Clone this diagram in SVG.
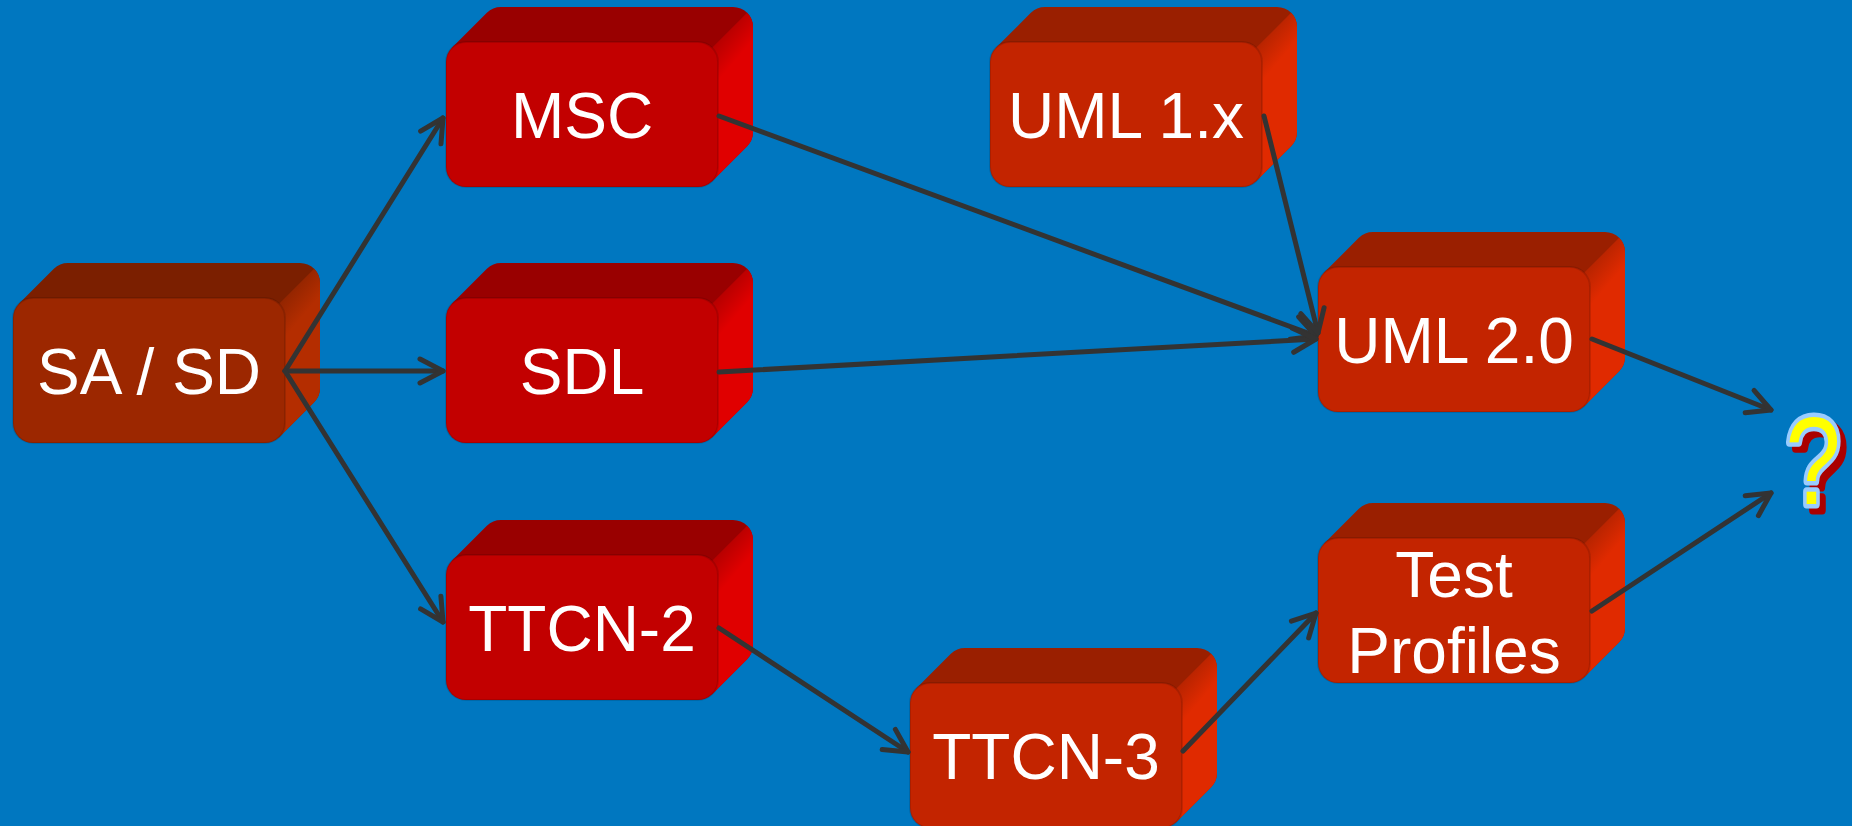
<svg xmlns="http://www.w3.org/2000/svg" width="1852" height="826" viewBox="0 0 1852 826">
  <defs>
    <style>
      .label { font-family: "Liberation Sans", Arial, sans-serif; font-size: 64px; fill: #ffffff; text-anchor: middle; }
      .front { stroke: rgba(0,0,0,0.12); stroke-width: 2; }
      .edge { fill: none; stroke: #333333; stroke-width: 5; stroke-linecap: round; marker-end: url(#arrow); }
      .brown .top { fill: #7b1f00; }
      .brown .front { fill: #9c2700; }
      .brown .side { fill: url(#sideBrown); }
      .red .top { fill: #990000; }
      .red .front { fill: #c20000; }
      .red .side { fill: url(#sideRed); }
      .orange .top { fill: #9a1f00; }
      .orange .front { fill: #c32400; }
      .orange .side { fill: url(#sideOrange); }
      .qmark { font-family: "Liberation Sans", Arial, sans-serif; font-size: 124px; text-anchor: middle; stroke-width: 9; stroke-linejoin: round; paint-order: stroke; }
    </style>
    <!-- side-face shading, in each block's local coordinates -->
    <linearGradient id="sideBrown" gradientUnits="userSpaceOnUse" x1="268" y1="-25" x2="302" y2="4">
      <stop offset="0" stop-color="#7b1f00"/>
      <stop offset="1" stop-color="#b42d00"/>
    </linearGradient>
    <linearGradient id="sideRed" gradientUnits="userSpaceOnUse" x1="268" y1="-25" x2="302" y2="4">
      <stop offset="0" stop-color="#990000"/>
      <stop offset="1" stop-color="#e00000"/>
    </linearGradient>
    <linearGradient id="sideOrange" gradientUnits="userSpaceOnUse" x1="268" y1="-25" x2="302" y2="4">
      <stop offset="0" stop-color="#9a1f00"/>
      <stop offset="1" stop-color="#e02a00"/>
    </linearGradient>
    <marker id="arrow" viewBox="-30 -16 36 32" refX="0" refY="0" markerWidth="36" markerHeight="32" markerUnits="userSpaceOnUse" orient="auto">
      <path d="M-23,-12 L0,0 L-23,12" fill="none" stroke="#333333" stroke-width="5" stroke-linecap="round" stroke-linejoin="round"/>
    </marker>
  </defs>

  <rect x="0" y="0" width="1852" height="826" fill="#0077c0"/>

  <!-- each block: front face 272x145 at the group origin, extruded 35px up-right -->
  <g id="node-sasd" class="brown" transform="translate(13,298)">
    <path class="top" d="M5.86,5.86 L40.86,-29.14 A20,20 0 0 1 55,-35 L287,-35 A20,20 0 0 1 307,-15 L307,90 A20,20 0 0 1 301.14,104.14 L266.14,139.14 Z"/>
    <path class="side" d="M266.14,5.86 L301.14,-29.14 A20,20 0 0 1 307,-15 L307,90 A20,20 0 0 1 301.14,104.14 L266.14,139.14 L272,125 L272,20 Z"/>
    <rect class="front" width="272" height="145" rx="20"/>
    <text class="label" x="136" y="96">SA / SD</text>
  </g>
  <g id="node-msc" class="red" transform="translate(446,42)">
    <path class="top" d="M5.86,5.86 L40.86,-29.14 A20,20 0 0 1 55,-35 L287,-35 A20,20 0 0 1 307,-15 L307,90 A20,20 0 0 1 301.14,104.14 L266.14,139.14 Z"/>
    <path class="side" d="M266.14,5.86 L301.14,-29.14 A20,20 0 0 1 307,-15 L307,90 A20,20 0 0 1 301.14,104.14 L266.14,139.14 L272,125 L272,20 Z"/>
    <rect class="front" width="272" height="145" rx="20"/>
    <text class="label" x="136" y="96">MSC</text>
  </g>
  <g id="node-sdl" class="red" transform="translate(446,298)">
    <path class="top" d="M5.86,5.86 L40.86,-29.14 A20,20 0 0 1 55,-35 L287,-35 A20,20 0 0 1 307,-15 L307,90 A20,20 0 0 1 301.14,104.14 L266.14,139.14 Z"/>
    <path class="side" d="M266.14,5.86 L301.14,-29.14 A20,20 0 0 1 307,-15 L307,90 A20,20 0 0 1 301.14,104.14 L266.14,139.14 L272,125 L272,20 Z"/>
    <rect class="front" width="272" height="145" rx="20"/>
    <text class="label" x="136" y="96">SDL</text>
  </g>
  <g id="node-ttcn2" class="red" transform="translate(446,555)">
    <path class="top" d="M5.86,5.86 L40.86,-29.14 A20,20 0 0 1 55,-35 L287,-35 A20,20 0 0 1 307,-15 L307,90 A20,20 0 0 1 301.14,104.14 L266.14,139.14 Z"/>
    <path class="side" d="M266.14,5.86 L301.14,-29.14 A20,20 0 0 1 307,-15 L307,90 A20,20 0 0 1 301.14,104.14 L266.14,139.14 L272,125 L272,20 Z"/>
    <rect class="front" width="272" height="145" rx="20"/>
    <text class="label" x="136" y="96">TTCN-2</text>
  </g>
  <g id="node-uml1x" class="orange" transform="translate(990,42)">
    <path class="top" d="M5.86,5.86 L40.86,-29.14 A20,20 0 0 1 55,-35 L287,-35 A20,20 0 0 1 307,-15 L307,90 A20,20 0 0 1 301.14,104.14 L266.14,139.14 Z"/>
    <path class="side" d="M266.14,5.86 L301.14,-29.14 A20,20 0 0 1 307,-15 L307,90 A20,20 0 0 1 301.14,104.14 L266.14,139.14 L272,125 L272,20 Z"/>
    <rect class="front" width="272" height="145" rx="20"/>
    <text class="label" x="136" y="96">UML 1.x</text>
  </g>
  <g id="node-uml20" class="orange" transform="translate(1318,267)">
    <path class="top" d="M5.86,5.86 L40.86,-29.14 A20,20 0 0 1 55,-35 L287,-35 A20,20 0 0 1 307,-15 L307,90 A20,20 0 0 1 301.14,104.14 L266.14,139.14 Z"/>
    <path class="side" d="M266.14,5.86 L301.14,-29.14 A20,20 0 0 1 307,-15 L307,90 A20,20 0 0 1 301.14,104.14 L266.14,139.14 L272,125 L272,20 Z"/>
    <rect class="front" width="272" height="145" rx="20"/>
    <text class="label" x="136" y="96">UML 2.0</text>
  </g>
  <g id="node-testprofiles" class="orange" transform="translate(1318,538)">
    <path class="top" d="M5.86,5.86 L40.86,-29.14 A20,20 0 0 1 55,-35 L287,-35 A20,20 0 0 1 307,-15 L307,90 A20,20 0 0 1 301.14,104.14 L266.14,139.14 Z"/>
    <path class="side" d="M266.14,5.86 L301.14,-29.14 A20,20 0 0 1 307,-15 L307,90 A20,20 0 0 1 301.14,104.14 L266.14,139.14 L272,125 L272,20 Z"/>
    <rect class="front" width="272" height="145" rx="20"/>
    <text class="label" x="136" y="59">Test</text>
    <text class="label" x="136" y="135">Profiles</text>
  </g>
  <g id="node-ttcn3" class="orange" transform="translate(910,683)">
    <path class="top" d="M5.86,5.86 L40.86,-29.14 A20,20 0 0 1 55,-35 L287,-35 A20,20 0 0 1 307,-15 L307,90 A20,20 0 0 1 301.14,104.14 L266.14,139.14 Z"/>
    <path class="side" d="M266.14,5.86 L301.14,-29.14 A20,20 0 0 1 307,-15 L307,90 A20,20 0 0 1 301.14,104.14 L266.14,139.14 L272,125 L272,20 Z"/>
    <rect class="front" width="272" height="145" rx="20"/>
    <text class="label" x="136" y="96">TTCN-3</text>
  </g>

  <!-- question mark with drop shadow -->
  <g id="node-question">
    <text class="qmark" transform="translate(1819,510) scale(0.8,1)" fill="#aa0000" stroke="#aa0000">?</text>
    <text class="qmark" transform="translate(1813,504) scale(0.8,1)" fill="#ffff00" stroke="#99ccff">?</text>
  </g>

  <g id="connectors">
    <line class="edge" x1="285" y1="371" x2="443" y2="118"/>
    <line class="edge" x1="285" y1="371" x2="443" y2="371"/>
    <line class="edge" x1="285" y1="371" x2="443" y2="622"/>
    <line class="edge" x1="719" y1="116" x2="1316" y2="336"/>
    <line class="edge" x1="719" y1="372" x2="1316" y2="339"/>
    <line class="edge" x1="1264" y1="116" x2="1318" y2="333"/>
    <line class="edge" x1="1592" y1="339" x2="1771" y2="410"/>
    <line class="edge" x1="1592" y1="611" x2="1771" y2="493"/>
    <line class="edge" x1="719" y1="628" x2="908" y2="752"/>
    <line class="edge" x1="1183" y1="751" x2="1316" y2="613"/>
  </g>
</svg>
